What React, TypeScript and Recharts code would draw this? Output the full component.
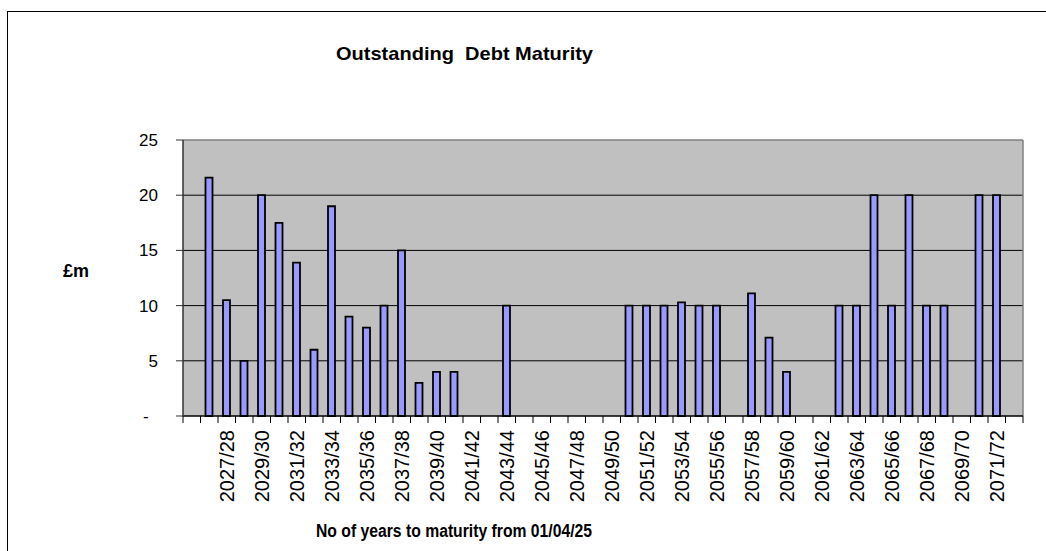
import React from "react";
import { BarChart, Bar, XAxis, YAxis, CartesianGrid, ReferenceLine, Customized } from "recharts";

const years: string[] = [
  "2025/26", "2026/27", "2027/28", "2028/29", "2029/30", "2030/31", "2031/32", "2032/33",
  "2033/34", "2034/35", "2035/36", "2036/37", "2037/38", "2038/39", "2039/40", "2040/41",
  "2041/42", "2042/43", "2043/44", "2044/45", "2045/46", "2046/47", "2047/48", "2048/49",
  "2049/50", "2050/51", "2051/52", "2052/53", "2053/54", "2054/55", "2055/56", "2056/57",
  "2057/58", "2058/59", "2059/60", "2060/61", "2061/62", "2062/63", "2063/64", "2064/65",
  "2065/66", "2066/67", "2067/68", "2068/69", "2069/70", "2070/71", "2071/72", "2072/73",
];

const debtValues: (number | null)[] = [
  null, 21.6, 10.5, 5, 20, 17.5, 13.9, 6,
  19, 9, 8, 10, 15, 3, 4, 4,
  null, null, 10, null, null, null, null, null,
  null, 10, 10, 10, 10.3, 10, 10, null,
  11.1, 7.1, 4, null, null, 10, 10, 20,
  10, 20, 10, 10, null, 20, 20, null,
];

const labelledYears: string[] = [
  "2027/28", "2029/30", "2031/32", "2033/34", "2035/36", "2037/38", "2039/40", "2041/42",
  "2043/44", "2045/46", "2047/48", "2049/50", "2051/52", "2053/54", "2055/56", "2057/58",
  "2059/60", "2061/62", "2063/64", "2065/66", "2067/68", "2069/70", "2071/72",
];

const yTicks: number[] = [0, 5, 10, 15, 20, 25];

const chartTitle = "Outstanding  Debt Maturity";
const yTitle = "£m";
const xTitle = "No of years to maturity from 01/04/25";

const data = years.map((y, i) => ({ year: y, value: debtValues[i] }));

const W = 1046;
const H = 551;
const M = { top: 140, right: 23, left: 0, bottom: 0 };
const Y_AXIS_W = 183;
const X_AXIS_H = 135;
const PLOT_W = W - M.left - M.right - Y_AXIS_W;
const FONT = "'Liberation Sans', Arial, sans-serif";

const XTick = (props: any) => {
  const { x, y, payload, index } = props;
  const band = PLOT_W / years.length;
  const axisY = y - 12;
  const showLabel = labelledYears.includes(payload.value);
  return (
    <g>
      <line x1={x - band / 2} x2={x - band / 2} y1={axisY} y2={axisY + 7} stroke="#000" strokeWidth={1} />
      {index === years.length - 1 && (
        <line x1={x + band / 2} x2={x + band / 2} y1={axisY} y2={axisY + 7} stroke="#000" strokeWidth={1} />
      )}
      {showLabel && (
        <text
          x={x}
          y={y + 2}
          transform={`rotate(-90, ${x}, ${y + 2})`}
          textAnchor="end"
          dominantBaseline="central"
          fontFamily={FONT}
          fontSize={20}
          fill="#000"
        >
          {payload.value}
        </text>
      )}
    </g>
  );
};

const Titles = () => (
  <g fontFamily={FONT} fill="#000">
    <text x={336} y={60} fontSize={19} fontWeight="bold" textLength={257} lengthAdjust="spacingAndGlyphs" style={{ whiteSpace: "pre" }}>
      {chartTitle}
    </text>
    <text x={63} y={277} fontSize={18} fontWeight="bold">
      {yTitle}
    </text>
    <text x={316} y={537} fontSize={18} fontWeight="bold" textLength={276} lengthAdjust="spacingAndGlyphs">
      {xTitle}
    </text>
  </g>
);

export default function App() {
  return (
    <div style={{ position: "absolute", left: 0, top: 0, width: W, height: H, background: "#fff" }}>
      <div
        style={{
          position: "absolute",
          left: 7,
          top: 11,
          width: W - 7,
          height: H - 11,
          boxSizing: "border-box",
          borderTop: "1.5px solid #000",
          borderLeft: "1.5px solid #000",
        }}
      />
      <div style={{ position: "absolute", left: 0, top: 0 }}>
        <BarChart width={W} height={H} data={data} margin={M} barSize={7}>
          <CartesianGrid
            horizontal={true}
            vertical={false}
            horizontalValues={[5, 10, 15, 20]}
            stroke="#000"
            strokeWidth={1}
            fill="#C0C0C0"
            fillOpacity={1}
          />
          <ReferenceLine y={25} stroke="#808080" strokeWidth={1.5} />
          <ReferenceLine x={years[years.length - 1]} position="end" stroke="#808080" strokeWidth={1.5} />
          <XAxis
            dataKey="year"
            type="category"
            height={X_AXIS_H}
            interval={0}
            tickLine={false}
            tickSize={7}
            tickMargin={5}
            axisLine={{ stroke: "#000", strokeWidth: 1.5 }}
            tick={<XTick />}
          />
          <YAxis
            width={Y_AXIS_W}
            domain={[0, 25]}
            ticks={yTicks}
            interval={0}
            tickSize={7}
            tickMargin={18}
            axisLine={{ stroke: "#333", strokeWidth: 1.5 }}
            tickLine={{ stroke: "#333", strokeWidth: 1 }}
            tick={{ fill: "#000", fontSize: 17, fontFamily: FONT }}
            tickFormatter={(v: number) => (v === 0 ? "-\u00A0\u00A0" : String(v))}
          />
          <Bar dataKey="value" fill="#9999FF" stroke="#000" strokeWidth={1.8} isAnimationActive={false} />
          <Customized component={Titles} />
        </BarChart>
      </div>
    </div>
  );
}
